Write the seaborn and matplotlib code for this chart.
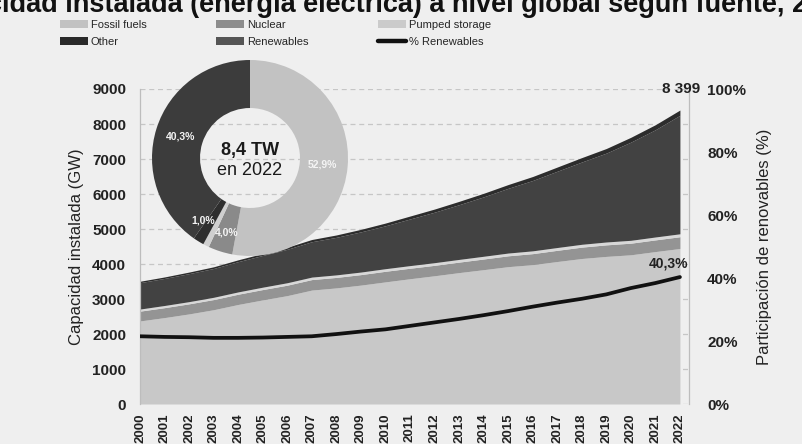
import matplotlib
matplotlib.use("Agg")
import matplotlib.pyplot as plt
import seaborn as sns
import pandas as pd
from matplotlib.patches import Patch
from matplotlib.lines import Line2D
import numpy as np

# Installed electric capacity by source (GW), 2000-2022
years = list(range(2000, 2023))
fossil = [2373, 2469, 2574, 2694, 2844, 2974, 3097, 3255, 3317, 3397, 3489, 3579,
          3664, 3754, 3838, 3924, 3981, 4071, 4157, 4217, 4263, 4355, 4443]
nuclear = [280, 284, 288, 290, 293, 296, 298, 300, 300, 300, 303, 300,
           298, 300, 305, 310, 315, 320, 325, 330, 332, 334, 336]
pumped = [60, 62, 63, 65, 66, 68, 70, 71, 72, 73, 74, 75,
          76, 77, 78, 79, 80, 80, 81, 82, 82, 83, 84]
renewables = [754, 773, 800, 823, 865, 907, 955, 1010, 1073, 1148, 1226, 1332,
              1442, 1563, 1697, 1849, 2010, 2179, 2351, 2539, 2805, 3064, 3385]
other = [40, 42, 45, 48, 52, 55, 60, 64, 68, 72, 78, 84,
         90, 96, 102, 108, 114, 120, 126, 132, 138, 144, 151]
# Renewable share of total capacity (%)
share_ren = [21.5, 21.3, 21.2, 21.0, 21.0, 21.1, 21.3, 21.5, 22.2, 23.0, 23.7, 24.8,
             25.9, 27.0, 28.2, 29.5, 30.9, 32.2, 33.4, 34.8, 36.8, 38.4, 40.3]

y_ticks_gw = [0, 1000, 2000, 3000, 4000, 5000, 6000, 7000, 8000, 9000]
y_ticks_pct = [0, 20, 40, 60, 80, 100]

title = "Capacidad instalada (energía eléctrica) a nivel global según fuente, 2000-2022"

BG = "#efefef"
col = {
    "Fossil fuels": "#c8c8c8",
    "Nuclear": "#949494",
    "Pumped storage": "#d8d8d8",
    "Renewables": "#424242",
    "Other": "#2c2c2c",
}

df = pd.DataFrame({
    "year": years,
    "Fossil fuels": fossil,
    "Nuclear": nuclear,
    "Pumped storage": pumped,
    "Renewables": renewables,
    "Other": other,
    "share": share_ren,
})
stack_order = ["Fossil fuels", "Nuclear", "Pumped storage", "Renewables", "Other"]

sns.set_theme(style="white")
plt.rcParams["font.family"] = ["Liberation Sans", "DejaVu Sans"]

W, H = 803, 444
fig = plt.figure(figsize=(W / 100, H / 100), dpi=100, facecolor=BG)

L, R, B, T = 140, 689, 404, 89
ax = fig.add_axes([L / W, (H - B) / H, (R - L) / W, (B - T) / H])
ax.set_facecolor(BG)

ax.stackplot(df["year"], *[df[c] for c in stack_order],
             colors=[col[c] for c in stack_order], linewidth=0, zorder=2)
ax.set_xlim(2000, 2022.37)
ax.set_ylim(0, 9000)
ax.set_yticks(y_ticks_gw)
ax.set_xticks(years)
ax.set_xticklabels([str(y) for y in years], rotation=90, fontsize=9.5,
                   fontweight="bold", color="#222222")
ax.tick_params(axis="x", length=0, pad=7)
ax.tick_params(axis="y", length=0, pad=10, labelsize=11, labelcolor="#222222")
for t in ax.get_yticklabels():
    t.set_fontweight("bold")
ax.yaxis.grid(True, linestyle=(0, (4, 3)), color="#c6c6c6", linewidth=0.9, zorder=0)
ax.set_axisbelow(True)
for s in ["top", "bottom"]:
    ax.spines[s].set_visible(False)
for s in ["left", "right"]:
    ax.spines[s].set_color("#bdbdbd")
    ax.spines[s].set_linewidth(0.9)
ax.set_ylabel("Capacidad instalada (GW)", fontsize=12, color="#222222", labelpad=6)

# Renewable share on the secondary axis
ax2 = ax.twinx()
sns.lineplot(data=df, x="year", y="share", ax=ax2, color="#111111",
             linewidth=2.7, zorder=5)
ax2.set_ylim(0, 100)
ax2.set_yticks(y_ticks_pct)
ax2.set_yticklabels([f"{v}%" for v in y_ticks_pct], fontsize=11,
                    fontweight="bold", color="#222222")
ax2.tick_params(axis="y", length=0, pad=13)
for s in ["top", "bottom", "left", "right"]:
    ax2.spines[s].set_visible(False)
ax2.set_xlabel("")
ax2.set_ylabel("Participación de renovables (%)", fontsize=12, color="#222222",
               labelpad=8)

last_share = f"{share_ren[-1]:.1f}".replace(".", ",") + "%"
ax2.annotate(last_share, xy=(years[-1], share_ren[-1]), xytext=(-8, 5),
             textcoords="offset points", ha="center", va="bottom",
             fontsize=10, fontweight="bold", color="#222222")

total_2022 = fossil[-1] + nuclear[-1] + pumped[-1] + renewables[-1] + other[-1]
ax.annotate(f"{total_2022:,}".replace(",", " "), xy=(1, 9000),
            xycoords=("axes fraction", "data"), xytext=(8, 0),
            textcoords="offset points", ha="right", va="center",
            fontsize=11, fontweight="bold", color="#222222")

# Donut with the 2022 mix
cx, cy, rad = 250, 158, 98
dax = fig.add_axes([(cx - rad) / W, (H - cy - rad) / H, 2 * rad / W, 2 * rad / H])
donut_order = ["Fossil fuels", "Nuclear", "Pumped storage", "Other", "Renewables"]
donut_vals = [df[c].iloc[-1] for c in donut_order]
donut_cols = {"Fossil fuels": "#c2c2c2", "Nuclear": "#8a8a8a",
              "Pumped storage": "#cfcfcf", "Other": "#2e2e2e", "Renewables": "#3c3c3c"}
wedges, _ = dax.pie(donut_vals, colors=[donut_cols[c] for c in donut_order],
                    startangle=90, counterclock=False, radius=1.0,
                    wedgeprops=dict(width=0.49, edgecolor="none"))
dax.set_xlim(-1, 1)
dax.set_ylim(-1, 1)
dax.set_aspect("equal")
dax.axis("off")
tot = sum(donut_vals)
# small slices get their labels fanned out so they stay readable
label_nudge = {"Pumped storage": (-10, 0.80), "Nuclear": (0, 0.80)}
for w, name, v in zip(wedges, donut_order, donut_vals):
    if name == "Other":
        continue
    dang, r = label_nudge.get(name, (0, 0.745))
    ang = np.deg2rad((w.theta1 + w.theta2) / 2 + dang)
    dax.text(r * np.cos(ang), r * np.sin(ang),
             f"{100 * v / tot:.1f}".replace(".", ",") + "%",
             ha="center", va="center", fontsize=7.5, fontweight="bold",
             color="#f4f4f4")
dax.text(0, 0.08, f"{tot / 1000:.1f}".replace(".", ",") + " TW", ha="center",
         va="center", fontsize=13, fontweight="bold", color="#1a1a1a")
dax.text(0, -0.13, "en 2022", ha="center", va="center", fontsize=13,
         color="#1a1a1a")

# Legend across the top
legend_cols = {"Fossil fuels": "#c2c2c2", "Other": "#2a2a2a", "Nuclear": "#8c8c8c",
               "Renewables": "#555555", "Pumped storage": "#cbcbcb"}
handles = [Patch(facecolor=legend_cols[n], edgecolor="none", label=n)
           for n in ["Fossil fuels", "Other", "Nuclear", "Renewables", "Pumped storage"]]
handles.append(Line2D([0], [0], color="#111111", linewidth=3.2, label="% Renewables"))
fig.legend(handles=handles, ncol=3, loc="upper left",
           bbox_to_anchor=(60 / W, 1 - 20 / H), frameon=False, fontsize=8,
           handlelength=2.5, handletextpad=0.25, columnspacing=6.3,
           labelspacing=0.6, borderpad=0, borderaxespad=0)

# Title along the top edge
title_size = 19.5
renderer = fig.canvas.get_renderer()
probe = fig.text(0, 0, "Capac", fontsize=title_size, fontweight="bold")
shift = probe.get_window_extent(renderer).width
probe.remove()
fig.text((2 - shift) / W, 1 - 12 / H, title, fontsize=title_size, fontweight="bold",
         ha="left", va="baseline", color="#111111")

fig.savefig("out.png", dpi=100, facecolor=BG)
